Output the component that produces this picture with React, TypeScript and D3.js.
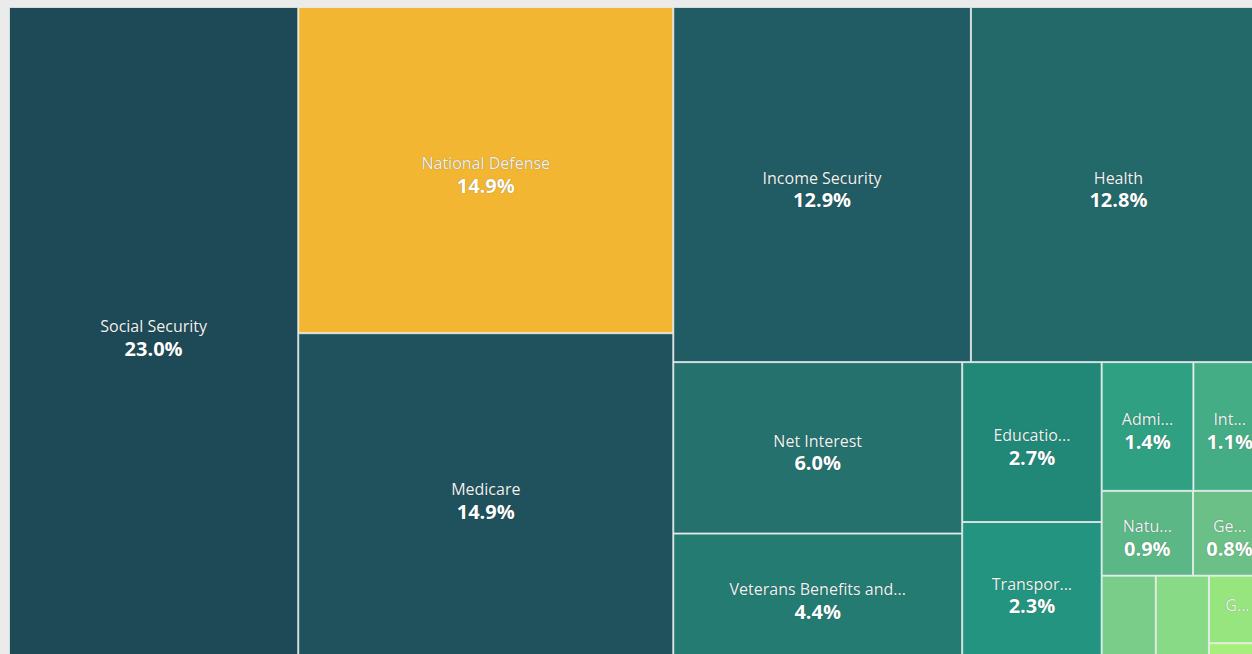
import React, { useMemo } from "react";
import * as d3 from "d3";

// ---- data ----
const categories = [
  "Social Security",
  "National Defense",
  "Medicare",
  "Income Security",
  "Health",
  "Net Interest",
  "Veterans Benefits and Services",
  "Education, Training, Employment, and Social Services",
  "Transportation",
  "Administration of Justice",
  "International Affairs",
  "Natural Resources and Environment",
  "General Government",
  "Community and Regional Development",
  "Agriculture",
  "General Science, Space, and Technology",
  "Commerce and Housing Credit",
];
const values = [
  23.0, 14.92, 14.9, 12.89, 12.78, 6.04, 4.42, 2.72, 2.33, 1.44, 1.14, 0.945,
  0.755, 0.55, 0.54, 0.47, 0.11,
];
const highlighted = ["National Defense"];

// ---- styles ----
const palette = [
  "#1d4a56", "#f2b632", "#1f525c", "#215b63", "#23696a", "#24716e", "#237b72",
  "#218878", "#22947f", "#2fa182", "#45ad85", "#5bb786", "#6ac087", "#79cd88",
  "#88da86", "#97e57f", "#a6ef7b",
];
const FONT = "'Segoe UI', 'Open Sans', sans-serif";
const NAME_SIZE = 16;
const PCT_SIZE = 20;

const VW = 1252;
const VH = 654;
const X0 = 9;
const Y0 = 7;
const TW = 1257;
const TH = 652;

let ctx: CanvasRenderingContext2D | null = null;
function measure(text: string, font: string) {
  if (!ctx) ctx = document.createElement("canvas").getContext("2d");
  ctx!.font = font;
  return ctx!.measureText(text).width;
}

function truncate(name: string, avail: number) {
  const font = `${NAME_SIZE}px 'Open Sans'`;
  if (measure(name, font) <= avail) return name;
  for (let n = name.length - 1; n >= 1; n--) {
    const t = name.slice(0, n).trimEnd() + "...";
    if (measure(t, font) <= avail) return t;
  }
  return "";
}

export default function App() {
  const leaves = useMemo(() => {
    const total = d3.sum(values);
    const root = d3
      .hierarchy<any>({
        children: categories.map((c, i) => ({ name: c, value: values[i], idx: i })),
      })
      .sum((d: any) => d.value ?? 0)
      .sort((a, b) => (b.value ?? 0) - (a.value ?? 0));
    d3.treemap<any>().tile(d3.treemapBinary).size([TW, TH]).round(false)(root);
    return (root.leaves() as any[]).map((l) => ({
      name: l.data.name as string,
      idx: l.data.idx as number,
      pct: ((l.value / total) * 100).toFixed(1) + "%",
      x0: l.x0 + X0,
      y0: l.y0 + Y0,
      x1: l.x1 + X0,
      y1: l.y1 + Y0,
    }));
  }, []);

  const scale = NAME_SIZE / 15;

  return (
    <div
      style={{
        position: "fixed",
        left: 0,
        top: 0,
        width: VW,
        height: VH,
        background: "#ebebeb",
        overflow: "hidden",
      }}
    >
      <svg width={VW} height={VH} style={{ display: "block" }}>
        {leaves.map((d) => {
          const w = d.x1 - d.x0;
          const h = d.y1 - d.y0;
          const cx = (d.x0 + d.x1) / 2;
          const cy = (d.y0 + d.y1) / 2;
          const showName = w >= 56 && h >= 30;
          const showPct = showName && w >= 60 && h >= 75;
          const label = showName ? truncate(d.name, (0.6 * w - 5) * scale) : "";
          const fill = highlighted.includes(d.name) ? "#f2b632" : palette[d.idx];
          return (
            <g key={d.name}>
              <rect
                x={d.x0 + 0.5}
                y={d.y0 + 0.5}
                width={Math.max(0, w - 1)}
                height={Math.max(0, h - 1)}
                fill={fill}
                stroke="rgba(235,242,240,0.75)"
                strokeWidth={1}
              />
              {label && (
                <text
                  x={cx}
                  y={showPct ? cy - 7 : cy - 4}
                  textAnchor="middle"
                  dominantBaseline="central"
                  fontFamily={FONT}
                  fontSize={NAME_SIZE}
                  fill="#f2f2f2"
                  style={{ textShadow: "0 0 1px rgba(0,0,0,0.4)" }}
                >
                  {label}
                </text>
              )}
              {showPct && (
                <text
                  x={cx}
                  y={cy + 15}
                  textAnchor="middle"
                  dominantBaseline="central"
                  fontFamily={FONT}
                  fontSize={PCT_SIZE}
                  fontWeight={700}
                  fill="#ffffff"
                  style={{ textShadow: "0 0 1px rgba(0,0,0,0.4)" }}
                >
                  {d.pct}
                </text>
              )}
            </g>
          );
        })}
      </svg>
    </div>
  );
}
